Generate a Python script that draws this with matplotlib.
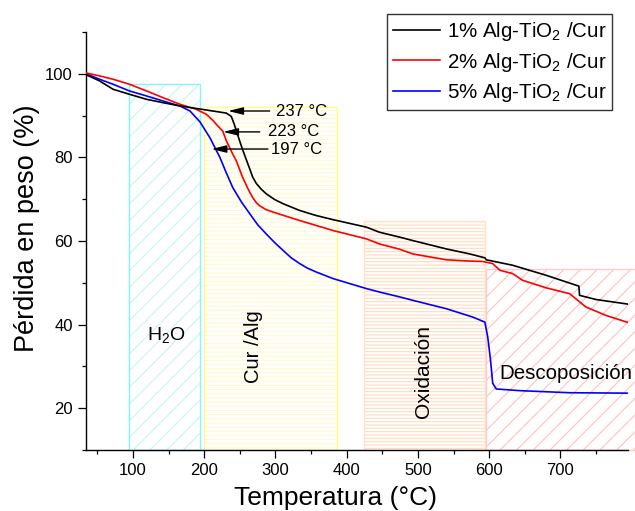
import matplotlib
matplotlib.use('Agg')
import matplotlib.pyplot as plt
from matplotlib.patches import Rectangle
from matplotlib.ticker import MultipleLocator

plt.rcParams['font.family'] = ['Liberation Sans', 'DejaVu Sans']
plt.rcParams['mathtext.fontset'] = 'custom'
plt.rcParams['mathtext.rm'] = 'Liberation Sans'
plt.rcParams['mathtext.it'] = 'Liberation Sans:italic'
plt.rcParams['hatch.linewidth'] = 0.8

# TGA curves
t_1 = [34, 53, 72, 95, 119, 142, 166, 189, 212, 231, 238, 242, 246, 250, 254, 259, 264,
       268, 273, 280, 287, 299, 311, 334, 357, 381, 428, 446, 475, 493, 540, 573, 591,
       594, 596, 633, 680, 726, 727, 750, 795]
w_1 = [99.8, 98.3, 96.3, 95.1, 93.9, 93.1, 92.3, 91.7, 91.1, 90.6, 89.8, 88.0, 85.9,
       83.8, 81.8, 79.5, 77.2, 75.3, 73.8, 72.4, 71.3, 69.9, 68.9, 67.3, 66.1, 65.1,
       63.3, 62.1, 60.9, 60.1, 58.1, 56.9, 56.1, 56.0, 55.5, 54.2, 51.8, 49.2, 47.0,
       46.0, 44.9]

t_2 = [34, 53, 72, 95, 119, 142, 166, 189, 203, 213, 217, 226, 231, 240, 245, 254, 262,
       268, 273, 278, 287, 297, 334, 381, 428, 446, 475, 493, 540, 573, 591, 605, 610,
       615, 633, 647, 680, 713, 736, 764, 795]
w_2 = [100.2, 99.5, 98.7, 97.5, 95.9, 94.3, 92.7, 91.5, 90.3, 88.7, 87.9, 86.3, 84.0,
       80.8, 79.2, 75.2, 72.3, 70.4, 69.2, 68.4, 67.5, 66.9, 64.9, 62.5, 60.5, 59.3,
       58.0, 56.9, 55.5, 55.2, 55.1, 54.6, 53.8, 53.0, 52.2, 50.6, 48.8, 47.4, 44.2,
       42.2, 40.5]

t_5 = [34, 53, 72, 95, 119, 142, 166, 180, 194, 208, 222, 231, 240, 252, 264, 275, 287,
       299, 311, 322, 334, 345, 357, 381, 428, 446, 475, 493, 540, 577, 594, 598, 602,
       605, 610, 643, 713, 795]
w_5 = [100.0, 98.7, 97.5, 95.9, 94.7, 93.5, 92.3, 91.1, 88.5, 84.7, 80.0, 76.3, 72.8,
       69.4, 66.5, 63.9, 61.7, 59.6, 57.7, 56.0, 54.6, 53.5, 52.6, 51.0, 48.6, 47.8,
       46.6, 45.8, 43.8, 41.8, 40.6, 37.1, 31.5, 26.0, 24.6, 24.2, 23.7, 23.6]

labels = ['1% Alg-TiO$_2$ /Cur', '2% Alg-TiO$_2$ /Cur', '5% Alg-TiO$_2$ /Cur']
colors = ['black', 'red', 'blue']

# shaded stages: (T start, T end, top, edge colour, hatch colour, hatch)
stage_x0 = [94, 200, 425, 595]
stage_x1 = [194, 386, 594, 810]
stage_top = [97.5, 92.1, 64.9, 53.3]
stage_edge = ['#88f4f4', '#ffff88', '#ffe2c6', '#ffcaca']
stage_hatch_col = ['#c4f6f6', '#fffac8', '#ffdcbc', '#ffc0c0']
stage_hatch = ['//', '----', '-----', '//']

onsets = ['237 °C', '223 °C', '197 °C']
onset_head = [(233.4, 91.1), (226.4, 86.1), (210.0, 82.0)]
onset_tail = [291.9, 277.9, 289.5]
onset_text_x = [301.3, 289.5, 293.8]

fig = plt.figure(figsize=(6.35, 5.11), dpi=100)
ax = fig.add_axes([86 / 635, 61 / 511, 542 / 635, 418 / 511])

for x0, x1, top, ec, hc, h in zip(stage_x0, stage_x1, stage_top, stage_edge,
                                   stage_hatch_col, stage_hatch):
    ax.add_patch(Rectangle((x0, 10), x1 - x0, top - 10, facecolor='none',
                           edgecolor=hc, hatch=h, lw=0, clip_on=False, zorder=1))
    ax.add_patch(Rectangle((x0, 10), x1 - x0, top - 10, facecolor='none',
                           edgecolor=ec, lw=1.0, clip_on=False, zorder=1.1))

for t, w, c, lab in zip([t_5, t_2, t_1], [w_5, w_2, w_1], colors[::-1], labels[::-1]):
    ax.plot(t, w, color=c, lw=1.2, label=lab, zorder=3)

for txt, head, tail, tx in zip(onsets, onset_head, onset_tail, onset_text_x):
    ax.annotate('', xy=head, xytext=(tail, head[1]),
                arrowprops=dict(arrowstyle='-|>,head_length=0.9,head_width=0.22',
                                color='black', lw=1.0, shrinkA=0, shrinkB=0), zorder=4)
    ax.text(tx, head[1], txt, fontsize=12, ha='left', va='center', zorder=4)

ax.text(147, 37.5, 'H$_2$O', fontsize=14, ha='center', va='center')
ax.text(268.5, 34.7, 'Cur /Alg', fontsize=14.5, rotation=90, ha='center', va='center')
ax.text(507.3, 28.7, 'Oxidación', fontsize=15, rotation=90, ha='center', va='center')
ax.text(613.8, 26.9, 'Descoposición', fontsize=14.8, ha='left', va='baseline')

ax.set_xlim(34, 795)
ax.set_ylim(10, 110)
ax.xaxis.set_major_locator(MultipleLocator(100))
ax.xaxis.set_minor_locator(MultipleLocator(50))
ax.yaxis.set_minor_locator(MultipleLocator(10))
ax.set_yticks([20, 40, 60, 80, 100])
ax.tick_params(which='major', direction='out', length=6, width=0.9, labelsize=12)
ax.tick_params(which='minor', direction='out', length=3, width=0.9)
ax.spines['top'].set_visible(False)
ax.spines['right'].set_visible(False)
for s in ['left', 'bottom']:
    ax.spines[s].set_linewidth(1.0)

ax.set_xlabel('Temperatura (°C)', fontsize=19)
ax.set_ylabel('Pérdida en peso (%)', fontsize=19.5)
ax.xaxis.set_label_coords(0.46, -0.085)
ax.yaxis.set_label_coords(-0.085, 0.53)

handles, labs = ax.get_legend_handles_labels()
leg = fig.legend(handles[::-1], labs[::-1], loc='upper right',
                 bbox_to_anchor=(612 / 635, 1 - 14 / 511), bbox_transform=fig.transFigure,
                 fontsize=14.8, frameon=True, fancybox=False, edgecolor='black',
                 handlelength=2.3, handletextpad=0.32, labelspacing=0.38,
                 borderpad=0.28, borderaxespad=0)
leg.get_frame().set_linewidth(1.0)

fig.savefig('out.png', dpi=100)
